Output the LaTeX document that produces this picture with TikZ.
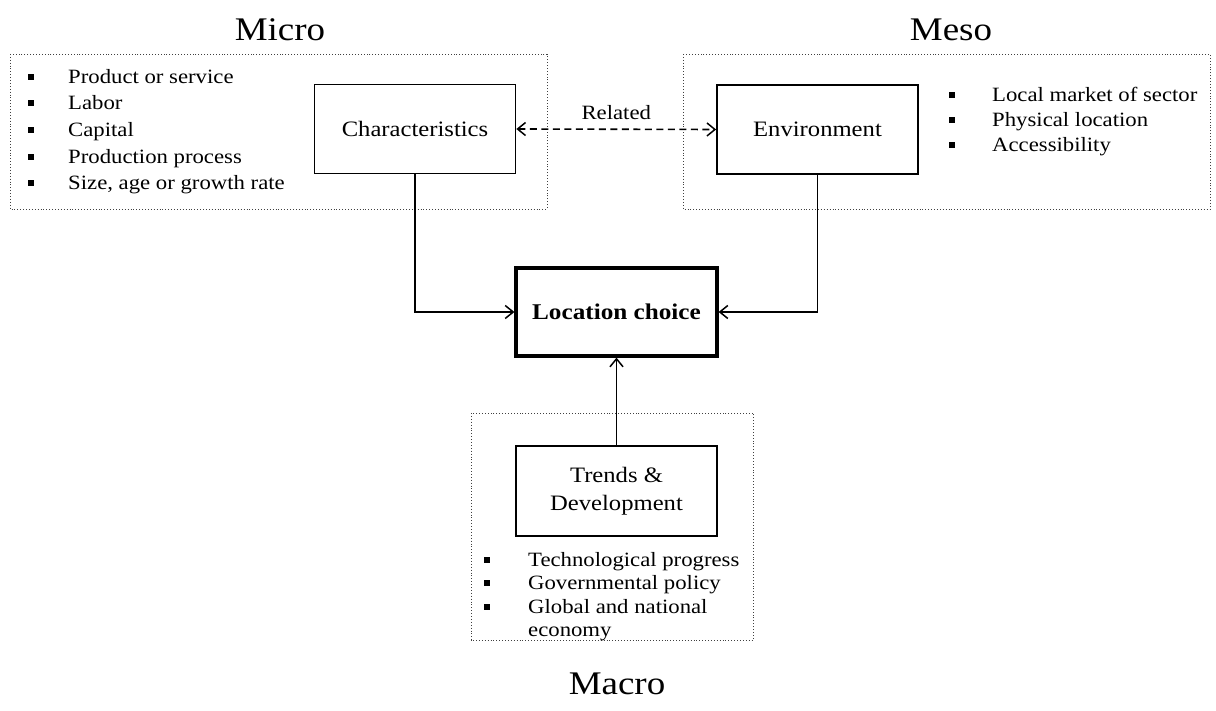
\documentclass[tikz,border=0pt]{standalone}
\usepackage{fontspec}
\setmainfont{Liberation Serif}[FakeStretch=1.12]
\usetikzlibrary{arrows.meta}
\begin{document}
\begin{tikzpicture}[x=1pt,y=-1pt,
  frame/.style={draw=black!75,line width=0.9pt,dotted},
  box/.style={draw,line width=1.7pt,minimum width=201pt,minimum height=89pt,inner sep=0pt,font=\fontsize{22}{28}\selectfont,align=center},
  mainbox/.style={draw,line width=3.2pt,minimum width=201pt,minimum height=88pt,inner sep=0pt,font=\fontsize{22.5}{26}\selectfont\bfseries},
  title/.style={font=\fontsize{33}{36}\selectfont},
  item/.style={anchor=base west,inner sep=0pt,font=\fontsize{20.3}{22}\selectfont},
  bul/.style={fill=black,minimum size=6pt,inner sep=0pt},
  conn/.style={line width=1.6pt,-{Straight Barb[length=8pt,width=13pt,line width=1.5pt]}},
  dconn/.style={line width=1.6pt,dash pattern=on 7pt off 4.5pt,{Straight Barb[length=8pt,width=13pt,line width=1.5pt]}-{Straight Barb[length=8pt,width=13pt,line width=1.5pt]}}
]
\useasboundingbox (0,0) rectangle (1216,711);
% frames
\draw[frame] (10,54) rectangle (547,209);
\draw[frame] (683,54) rectangle (1210,209);
\draw[frame] (471,413) rectangle (753,640);
% titles
\node[title] (tmicro) at (280,30) {Micro};
\node[title] (tmeso) at (951,30) {Meso};
\node[title] (tmacro) at (617,684) {Macro};
% boxes
\node[box] (char) at (415,129) {Characteristics};
\node[box] (env) at (817.5,129.5) {Environment};
\node[mainbox] (loc) at (616.5,312) {Location choice};
\node[box,minimum height=90pt] (trend) at (616.5,491) {Trends \&\\Development};
% micro list
\foreach \i/\y/\t in {1/77/{Product or service},2/103/{Labor},3/130/{Capital},4/157/{Production process},5/183/{Size, age or growth rate}}{
  \node[bul] (mb\i) at (31,\y) {};
  \node[item] (mi\i) at (68,\y+6.5) {\t};
}
% meso list
\foreach \i/\y/\t in {1/95/{Local market of sector},2/120/{Physical location},3/145/{Accessibility}}{
  \node[bul] (eb\i) at (952,\y) {};
  \node[item] (ei\i) at (992,\y+6.5) {\t};
}
% macro list
\foreach \i/\y/\t in {1/560/{Technological progress},2/583/{Governmental policy},3/607/{Global and national}}{
  \node[bul] (ab\i) at (487,\y) {};
  \node[item] (ai\i) at (528,\y+6.5) {\t};
}
\node[item] (ai4) at (528,636.5) {economy};
% connectors
\draw[dconn] (char.east) -- node[above=5pt,font=\fontsize{20.3}{22}\selectfont] (rel) {Related} (env.west);
\draw[conn] (char.south) |- (loc.west);
\draw[conn] (env.south) |- (loc.east);
\draw[conn] (trend.north) -- (loc.south);
\end{tikzpicture}
\end{document}
